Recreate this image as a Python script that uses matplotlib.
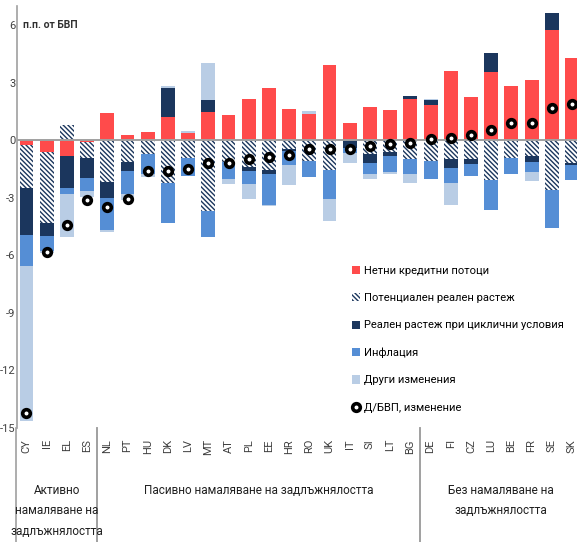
#=========================================================================
# debt-decomposition-plot.py
#=========================================================================

import matplotlib
matplotlib.use( 'Agg' )
import matplotlib.pyplot as plt
import matplotlib.transforms as mtrans
from matplotlib.patches import Patch
from matplotlib.lines import Line2D
import numpy as np

#-------------------------------------------------------------------------
# Configure matplotlib
#-------------------------------------------------------------------------

plt.rcParams['font.family']        = [ 'Roboto', 'DejaVu Sans' ]
plt.rcParams['font.size']          = 8
plt.rcParams['hatch.linewidth']    = 1.0
plt.rcParams['axes.unicode_minus'] = False

#-------------------------------------------------------------------------
# Data (п.п. от БВП)
#-------------------------------------------------------------------------

countries = [
  'CY', 'IE', 'EL', 'ES',
  'NL', 'PT', 'HU', 'DK', 'LV', 'MT', 'AT', 'PL', 'EE', 'HR', 'RO', 'UK',
  'IT', 'SI', 'LT', 'BG',
  'DE', 'FI', 'CZ', 'LU', 'BE', 'FR', 'SE', 'SK',
]

credit    = [ -0.25, -0.6, -0.8, -0.1, 1.4, 0.3, 0.45, 1.2, 0.4, 1.5, 1.3,
              2.15, 2.75, 1.65, 1.35, 3.9, 0.9, 1.75, 1.6, 2.15, 1.85, 3.6,
              2.25, 3.55, 2.85, 3.15, 5.75, 4.3 ]

potential = [ -2.25, -3.7, 0.8, -0.8, -2.2, -1.15, -0.7, -2.25, -0.95, -3.67,
              -1.15, -1.4, -1.55, -0.45, -1.1, -1.55, 0.0, -0.7, -0.6, -1.0,
              -1.1, -1.0, -1.0, -2.05, -0.95, -0.8, -2.6, -1.2 ]

cyclical  = [ -2.46, -0.7, -1.7, -1.05, -0.8, -0.45, 0.0, 1.5, 0.0, 0.6, 0.0,
              -0.2, -0.2, -0.1, 0.0, 0.0, -0.4, -0.5, -0.2, 0.15, 0.25, -0.45,
              -0.25, 1.0, 0.0, -0.35, 0.9, -0.1 ]

inflation = [ -1.57, -0.76, -0.3, -0.7, -1.7, -1.2, -1.05, -2.05, -0.9, -1.35,
              -0.85, -0.7, -1.6, -0.75, -0.8, -1.5, -0.25, -0.55, -0.85, -0.75,
              -0.9, -0.8, -0.6, -1.6, -0.8, -0.5, -1.95, -0.75 ]

other     = [ -8.1, -0.1, -2.25, -0.3, -0.1, -0.3, -0.15, 0.15, 0.1, 1.95,
              -0.3, -0.75, -0.1, -1.05, 0.15, -1.15, -0.55, -0.25, -0.1, -0.5,
              0.05, -1.15, 0.0, 0.0, 0.0, -0.45, 0.0, 0.0 ]

debt_change = [ -14.2, -5.8, -4.4, -3.1, -3.5, -3.05, -1.6, -1.6, -1.5, -1.2,
                -1.2, -1.0, -0.85, -0.75, -0.45, -0.45, -0.45, -0.3, -0.2,
                -0.15, 0.05, 0.1, 0.25, 0.55, 0.9, 0.9, 1.7, 1.9 ]

series_names = [
  'Нетни кредитни потоци',
  'Потенциален реален растеж',
  'Реален растеж при циклични условия',
  'Инфлация',
  'Други изменения',
]
dot_name = 'Д/БВП, изменение'

groups = [
  # ( first index, last index, label )
  ( 0,  3,  'Активно\nнамаляване на\nзадлъжнялостта' ),
  ( 4,  19, 'Пасивно намаляване на задлъжнялостта' ),
  ( 20, 27, 'Без намаляване на\nзадлъжнялостта' ),
]

#-------------------------------------------------------------------------
# Plot parameters
#-------------------------------------------------------------------------

colors  = [ '#ff4b4b', 'white', '#1b365d', '#558ed5', '#b9cde5' ]
hatches = [ None, '\\' * 7, None, None, None ]
width   = 0.69

#-------------------------------------------------------------------------
# Create plot
#-------------------------------------------------------------------------

fig = plt.figure( figsize=(5.77, 5.42), dpi=100 )
ax  = fig.add_axes( [ 17/577, 114/542, 1 - 17/577, 422/542 ] )

ind  = np.arange( len(countries) )
data = np.array( [ credit, potential, cyclical, inflation, other ] )

pos_base = np.zeros( len(countries) )
neg_base = np.zeros( len(countries) )

handles = []
for i, vals in enumerate( data ):
  base = np.where( vals >= 0, pos_base, neg_base )
  ax.bar( ind, vals, width, bottom=base, color=colors[i],
          hatch=hatches[i], edgecolor='#1b365d', linewidth=0, zorder=2 )
  pos_base += np.where( vals >= 0, vals, 0 )
  neg_base += np.where( vals < 0, vals, 0 )
  if hatches[i]:
    handles.append( Patch( facecolor='white', edgecolor='#1b365d',
                           hatch=hatches[i], linewidth=0 ) )
  else:
    handles.append( Patch( facecolor=colors[i], linewidth=0 ) )

ax.plot( ind, debt_change, 'o', ls='none', ms=5.5, mfc='white', mec='black',
         mew=2.6, zorder=4 )
handles.append( Line2D( [], [], marker='o', ls='none', ms=5.5, mfc='white',
                        mec='black', mew=2.6 ) )

# Zero line

ax.axhline( 0, color='#a0a0a0', linewidth=1.4, zorder=3 )

# Axis formatting

ax.set_xlim( -0.47, 27.25 )
ax.set_ylim( -15, 7 )
ax.set_yticks( np.arange( -15, 7, 3 ) )
ax.set_xticks( ind )
ax.set_xticklabels( countries, rotation=90, fontsize=8, color='#404040' )
ax.tick_params( axis='x', length=0, pad=8 )
ax.tick_params( axis='y', length=0, pad=1, labelsize=8, labelcolor='#404040' )

for s in [ 'top', 'right', 'bottom' ]:
  ax.spines[s].set_visible( False )
ax.spines['left'].set_color( '#a0a0a0' )
ax.spines['left'].set_linewidth( 1.2 )

ax.text( 23/577, 1 - 25/542, 'п.п. от БВП', transform=fig.transFigure,
         fontsize=7.5, fontweight='bold', color='#303030', va='center' )

# Group separators and labels

trans = mtrans.blended_transform_factory( ax.transData, fig.transFigure )
for first, last, label in groups:
  for xs in [ first - 0.5, last + 0.5 ]:
    ax.add_line( Line2D( [ xs, xs ], [ 0.0, 114/542 ], transform=trans,
                         color='#a0a0a0', linewidth=1.2, clip_on=False ) )
  ax.text( ( first + last ) / 2.0, 1 - 484/542, label, transform=trans,
           ha='center', va='top', fontsize=8.5, linespacing=1.75,
           color='#202020' )

# Legend

fig.legend( handles, series_names + [ dot_name ], loc='upper left',
            bbox_to_anchor=( 352/577, 1 - 266/542 ), frameon=False,
            fontsize=8, labelspacing=1.55, handlelength=0.75,
            handleheight=0.75, handletextpad=0.3, borderpad=0,
            borderaxespad=0 )

#-------------------------------------------------------------------------
# Save
#-------------------------------------------------------------------------

plt.savefig( 'out.png', dpi=100 )
